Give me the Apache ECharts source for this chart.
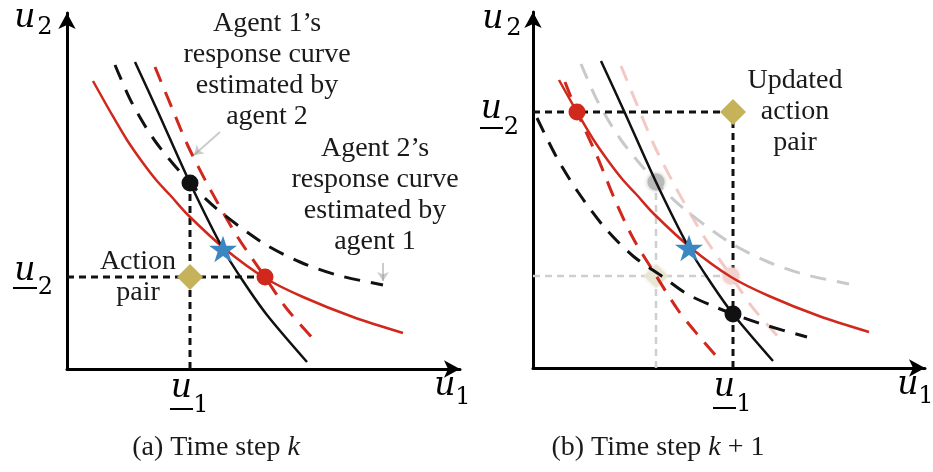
<!DOCTYPE html>
<html>
<head>
<meta charset="utf-8">
<script src="https://cdn.jsdelivr.net/npm/echarts@6/dist/echarts.min.js"></script>
<style>
  html, body { margin: 0; padding: 0; background: #fff; }
  #chart { width: 933px; height: 472px; }
</style>
</head>
<body>
<div id="chart"></div>
<script>
// curves, in axis units (u1 across, u2 up)
var redTrue      = [[26,288],[44,256],[60,229],[76,206],[90,188],[103,174],[121,154],[158,120],[198,91],[236,72],[286,52],[336,36]];
var blackTrue    = [[68,307],[91,257],[123,186],[156,120],[176,88],[200,54],[240,7]];
var redEstOld    = [[88,302],[105,261],[121,223],[143,180],[170,133],[198,92],[220,60],[250,26]];
var blackEstOld  = [[48,304],[65,266],[88,228],[123,186],[150,160],[196,126],[233,107],[270,94],[316,84]];
var redEstNew    = [[32,286],[44,256],[64,212],[82,168],[100,130],[122,94],[145,58],[165,33],[185,10]];
var blackEstNew  = [[4,250],[24,210],[45,176],[72,140],[100,112],[130,91],[154,74],[180,62],[200,54],[232,43],[274,31]];

// points
var equilibrium  = [[156,120]];
var blackDotA    = [[123,186]];
var redDotA      = [[198,92]];
var actionA      = [[123,92]];
var redDotB      = [[44,256]];
var actionB      = [[200,256]];
var blackDotB    = [[200,54]];

// guide lines
var guideHA = [[0,92],[198,92]];
var guideVA = [[123,0],[123,186]];
var guideHB = [[0,256],[200,256]];
var guideVB = [[200,0],[200,256]];

// grey pointers in (a)
var pointers = [[[153,237],[127,214]], [[316,106],[316,88]]];

var RED = '#d0281c', BLACK = '#111', STAR = '#3b87c2', GOLD = '#c6b25a';
var STAR_PATH = 'path://M50 0 L61.8 35.1 L98.9 35.1 L68.9 56.9 L80.3 92.1 L50 70.4 L19.7 92.1 L31.1 56.9 L1.1 35.1 L38.2 35.1 Z';
var SERIF = '"Liberation Serif", "DejaVu Serif", serif';
var MATH = '"DejaVu Serif", serif';

function curve(data, color, width, dash, g, z) {
    return {
        type: 'line', xAxisIndex: g, yAxisIndex: g, data: data,
        symbol: 'none', smooth: 0.3, z: z || 2,
        lineStyle: { color: color, width: width, type: dash || 'solid', cap: 'butt' },
        silent: true
    };
}
function guide(data, color, width, dash, g) {
    return {
        type: 'line', xAxisIndex: g, yAxisIndex: g, data: data, symbol: 'none', z: 1,
        lineStyle: { color: color, width: width, type: dash }, silent: true
    };
}
function marker(data, symbol, size, color, g, z, blur) {
    return {
        type: 'scatter', xAxisIndex: g, yAxisIndex: g, data: data,
        symbol: symbol, symbolSize: size, symbolKeepAspect: true, z: z,
        itemStyle: { color: color, opacity: 1, shadowBlur: blur || 0, shadowColor: color },
        silent: true
    };
}
function axes(g, xMax, yMax) {
    var line = { show: true, onZero: false, symbol: ['none', 'arrow'], symbolSize: [13, 16],
                 lineStyle: { color: '#000', width: 3 } };
    return {
        x: { gridIndex: g, type: 'value', min: 0, max: xMax, axisLine: line,
             axisTick: { show: false }, axisLabel: { show: false }, splitLine: { show: false } },
        y: { gridIndex: g, type: 'value', min: 0, max: yMax, axisLine: line,
             axisTick: { show: false }, axisLabel: { show: false }, splitLine: { show: false } }
    };
}

// math labels: italic u, subscript digit, optional underline
function mathLabel(ux, uy, sub, sx, sy, under) {
    var els = [
        { type: 'text', x: ux, y: uy, style: { text: 'u', font: 'italic 33px ' + MATH, fill: '#000', align: 'center', verticalAlign: 'middle' } },
        { type: 'text', x: sx, y: sy, style: { text: sub, font: '24px ' + MATH, fill: '#000', align: 'center', verticalAlign: 'middle' } }
    ];
    if (under) {
        els.push({ type: 'line', shape: { x1: under[0], y1: under[2], x2: under[1], y2: under[2] }, style: { stroke: '#000', lineWidth: 2 } });
    }
    return els;
}
function note(text, x, y) {
    return { type: 'text', x: x, y: y, style: { text: text, font: '28px ' + SERIF, fill: '#1a1a1a', align: 'center', verticalAlign: 'middle', lineHeight: 31 } };
}
function caption(text, x, y) {
    return { type: 'text', x: x, y: y, style: {
        text: text, align: 'center', verticalAlign: 'middle', fill: '#1a1a1a',
        rich: { n: { fontFamily: SERIF, fontSize: 28 }, i: { fontFamily: SERIF, fontSize: 28, fontStyle: 'italic' } } } };
}

var a = axes(0, 393, 356), b = axes(1, 392, 356);

var graphics = []
    .concat(mathLabel(25, 18, '2', 45, 28))
    .concat(mathLabel(25, 271, '2', 45.5, 288, [13, 37, 288]))
    .concat(mathLabel(181.5, 388, '1', 201, 405.5, [170, 193, 409]))
    .concat(mathLabel(445, 386, '1', 463, 398))
    .concat(mathLabel(493, 19, '2', 514, 29))
    .concat(mathLabel(491.5, 109, '2', 511.5, 128, [480, 503, 128]))
    .concat(mathLabel(724.5, 387, '1', 744, 404.5, [713, 736, 408]))
    .concat(mathLabel(908, 385, '1', 926, 397))
    .concat([
        note('Agent 1\u2019s\nresponse curve\nestimated by\nagent 2', 267, 70),
        note('Agent 2\u2019s\nresponse curve\nestimated by\nagent 1', 375, 195),
        note('Action\npair', 138, 277),
        note('Updated\naction\npair', 795, 112),
        caption('{n|(a) Time step }{i|k}', 216, 448),
        caption('{n|(b) Time step }{i|k}{n| + 1}', 658, 448)
    ]);

var series = [
    // panel (a)
    guide(guideHA, BLACK, 3, [7, 5], 0),
    guide(guideVA, BLACK, 3, [7, 5], 0),
    curve(redTrue, RED, 2.5, null, 0),
    curve(blackTrue, BLACK, 2.5, null, 0),
    curve(redEstOld, RED, 3, [16, 11], 0),
    curve(blackEstOld, BLACK, 3, [16, 11], 0),
    {
        type: 'lines', coordinateSystem: 'cartesian2d', xAxisIndex: 0, yAxisIndex: 0, z: 3,
        symbol: ['none', 'arrow'], symbolSize: 9, silent: true,
        lineStyle: { color: '#9a9a9a', width: 2, curveness: 0 },
        data: pointers.map(function (p) { return { coords: p }; })
    },
    marker(actionA, 'diamond', [26, 26], GOLD, 0, 5),
    marker(blackDotA, 'circle', 17, BLACK, 0, 5),
    marker(redDotA, 'circle', 17, RED, 0, 5),
    marker(equilibrium, STAR_PATH, 28, STAR, 0, 6),

    // panel (b): faded previous step
    guide(guideHA, '#cfcfcf', 2.5, [7, 5], 1),
    guide(guideVA, '#cfcfcf', 2.5, [7, 5], 1),
    curve(redEstOld, '#f2c9c5', 3, [16, 11], 1, 1),
    curve(blackEstOld, '#c9c9c9', 3, [16, 11], 1, 1),
    marker(blackDotA, 'circle', 17, '#b9b9b9', 1, 2, 4),
    marker(actionA, 'diamond', [24, 24], '#e9e5d3', 1, 2, 4),
    marker(redDotA, 'circle', 17, '#f2d3d1', 1, 2, 4),
    // panel (b): current step
    guide(guideHB, BLACK, 3, [7, 5], 1),
    guide(guideVB, BLACK, 3, [7, 5], 1),
    curve(redTrue, RED, 2.5, null, 1, 3),
    curve(blackTrue, BLACK, 2.5, null, 1, 3),
    curve(redEstNew, RED, 3, [16, 11], 1, 3),
    curve(blackEstNew, BLACK, 3, [16, 11], 1, 3),
    marker(actionB, 'diamond', [26, 26], GOLD, 1, 5),
    marker(redDotB, 'circle', 17, RED, 1, 5),
    marker(blackDotB, 'circle', 17, BLACK, 1, 5),
    marker(equilibrium, STAR_PATH, 28, STAR, 1, 6)
];

var chart = echarts.init(document.getElementById('chart'), null, { renderer: 'canvas' });
chart.setOption({
    animation: false,
    backgroundColor: '#fff',
    grid: [
        { left: 67, top: 13, width: 393, height: 356 },
        { left: 533, top: 12, width: 392, height: 356 }
    ],
    xAxis: [a.x, b.x],
    yAxis: [a.y, b.y],
    series: series,
    graphic: graphics
});
</script>
</body>
</html>
